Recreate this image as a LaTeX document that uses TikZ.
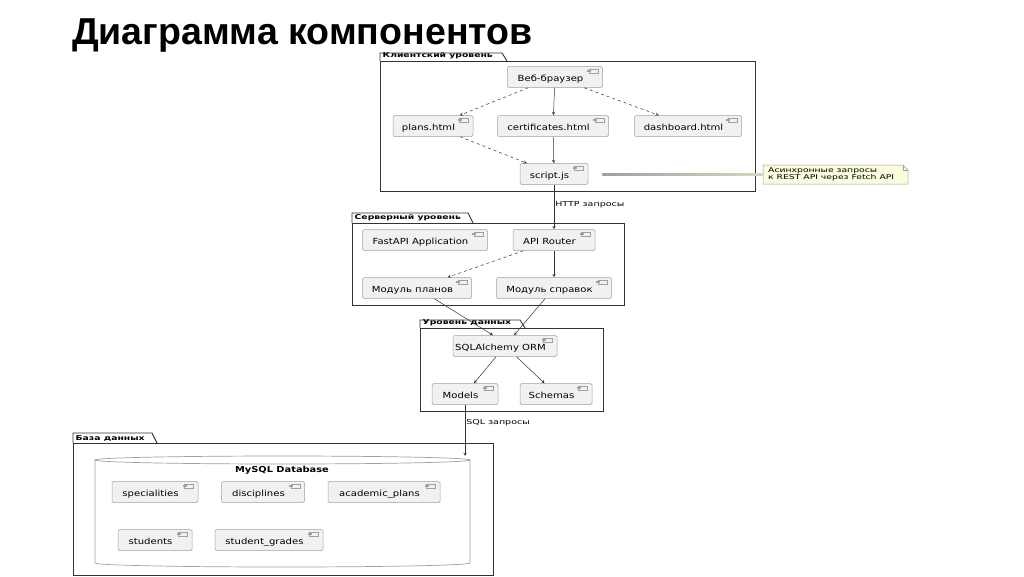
\documentclass[tikz,border=0pt]{standalone}
\usepackage{fontspec}
\setmainfont{DejaVu Sans}
\newfontfamily\titlefont{Liberation Sans}
\newfontfamily\wide[FakeStretch=1.2]{DejaVu Sans}
\newfontfamily\wider[FakeStretch=1.4]{DejaVu Sans}
\usetikzlibrary{positioning,arrows.meta}

\definecolor{compfill}{RGB}{241,241,241}
\definecolor{compline}{RGB}{160,160,160}
\definecolor{notefill}{RGB}{251,251,222}

\tikzset{
  comp/.style={draw=compline, fill=compfill, rounded corners=1.5pt, line width=0.5pt,
    minimum height=21pt, inner sep=2pt, text height=9.5pt, text depth=1pt,
    font=\wide\fontsize{8.4}{9}\selectfont, execute at end node={\hspace*{9pt}}},
  pkgframe/.style={draw=black!80, line width=0.9pt},
  pkglabel/.style={anchor=south west, inner sep=1.5pt, font=\wider\bfseries\fontsize{6.6}{8}\selectfont},
  link/.style={->, draw=black!80, line width=0.5pt},
  dlink/.style={link, dashed},
  edgelabel/.style={anchor=west, inner sep=1pt, font=\wider\fontsize{6.8}{8}\selectfont},
}

\begin{document}
\begin{tikzpicture}[x=1pt, y=-1pt, >=stealth]
\useasboundingbox (0,0) rectangle (1024,576);

% Title
\node[anchor=west, inner sep=0pt, font=\titlefont\bfseries\fontsize{37.5}{42}\selectfont] (title) at (72,35) {Диаграмма компонентов};

% Packages
\draw[pkgframe] (380,61) rectangle (755,191);
\draw[pkgframe] (380,61) -- (380,53) -- (502,53) -- (507,61);
\node[pkglabel] (clientlbl) at (381,61) {Клиентский уровень};

\draw[pkgframe] (352,223) rectangle (624,305);
\draw[pkgframe] (352,223) -- (352,213) -- (468,213) -- (473,223);
\node[pkglabel] (serverlbl) at (353,223) {Серверный уровень};

\draw[pkgframe] (420,328) rectangle (603,411);
\draw[pkgframe] (420,328) -- (420,320) -- (520,320) -- (525,328);
\node[pkglabel] (datalbl) at (421,328) {Уровень данных};

\draw[pkgframe] (73,443) rectangle (493,575);
\draw[pkgframe] (73,443) -- (73,433) -- (152,433) -- (157,443);
\node[pkglabel] (dblbl) at (74,443) {База данных};

% Database cylinder
\draw[compline, line width=0.7pt, fill=white]
    (95,460) arc[start angle=180, end angle=360, x radius=187.5pt, y radius=4pt]
    -- (470,563) arc[start angle=0, end angle=-180, x radius=187.5pt, y radius=4pt] -- cycle;
\draw[compline, line width=0.7pt] (95,460) arc[start angle=180, end angle=0, x radius=187.5pt, y radius=4pt];
\node[font=\wide\bfseries\fontsize{8.2}{9}\selectfont] (mysql) at (282,470) {MySQL Database};
\coordinate (dbtop) at (465,456);

% Client components
\node[comp, minimum width=95pt] (browser) at (555,77) {Веб-браузер};
\node[comp, minimum width=80pt] (plans) at (433,126) {plans.html};
\node[comp, minimum width=111pt] (certs) at (553,126) {certificates.html};
\node[comp, minimum width=107pt] (dashboard) at (688,126) {dashboard.html};
\node[comp, minimum width=68pt] (script) at (554,174) {script.js};

% Note
\draw[compline, fill=notefill, line width=0.5pt]
    (763,165) -- (903,165) -- (908,170) -- (908,184) -- (763,184) -- cycle;
\draw[compline, line width=0.5pt] (903,165) -- (903,170) -- (908,170);
\node[anchor=west, align=left, inner sep=0pt, font=\wider\fontsize{6.6}{7}\selectfont] (note) at (768,174.5)
    {Асинхронные запросы\\к REST API через Fetch API};
\coordinate (notein) at (763,175);

% Server components
\node[comp, minimum width=125pt] (fastapi) at (425,240) {FastAPI Application};
\node[comp, minimum width=82pt] (router) at (554,240) {API Router};
\node[comp, minimum width=109pt] (modplans) at (417,288) {Модуль планов};
\node[comp, minimum width=115pt] (modcerts) at (554,288) {Модуль справок};

% Data components
\node[comp, minimum width=104pt] (orm) at (505,346) {SQLAlchemy ORM};
\node[comp, minimum width=66pt] (models) at (465,394) {Models};
\node[comp, minimum width=72pt] (schemas) at (556,394) {Schemas};

% Tables
\node[comp, minimum width=86pt] (spec) at (155,492) {specialities};
\node[comp, minimum width=83pt] (disc) at (263,492) {disciplines};
\node[comp, minimum width=112pt] (acad) at (384,492) {academic\_plans};
\node[comp, minimum width=74pt] (students) at (155,540) {students};
\node[comp, minimum width=108pt] (grades) at (269,540) {student\_grades};

% Component icons
\foreach \n in {browser,plans,certs,dashboard,script,fastapi,router,modplans,modcerts,orm,models,schemas,spec,disc,acad,students,grades} {
    \draw[compline, line width=0.3pt, fill=compfill] ([xshift=-14pt,yshift=-3pt]\n.north east) rectangle ++(9pt,-3.5pt);
    \draw[compline, line width=0.3pt, fill=compfill] ([xshift=-15.5pt,yshift=-3.8pt]\n.north east) rectangle ++(3pt,-0.8pt);
}

% Connectors
\draw[dlink] (browser) -- (plans);
\draw[link] (browser) -- (certs);
\draw[dlink] (browser) -- (dashboard);
\draw[dlink] (plans) -- (script);
\draw[link] (certs) -- (script);
\shade[left color=gray!75, right color=notefill!70!gray] ([xshift=14pt,yshift=0.7pt]script.east) rectangle ([yshift=-0.7pt]notein);
\draw[link] (script) -- node[edgelabel, pos=0.45, right] {HTTP запросы} (router);
\draw[dlink] (router) -- (modplans);
\draw[link] (router) -- (modcerts);
\draw[link] (modplans) -- (orm.north west -| 493,0);
\draw[link] (modcerts) -- (orm);
\draw[link] (orm) -- (models);
\draw[link] (orm) -- (schemas);
\draw[link] (models) -- node[edgelabel, pos=0.35, right] {SQL запросы} (dbtop);

\end{tikzpicture}
\end{document}
